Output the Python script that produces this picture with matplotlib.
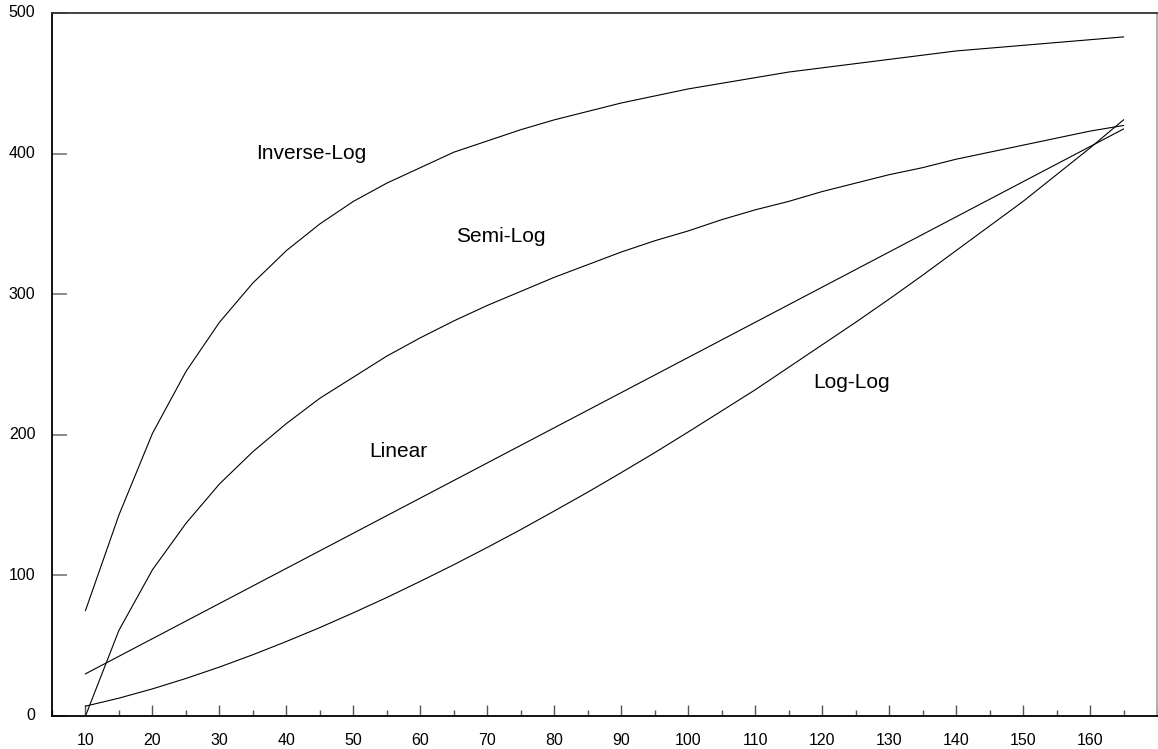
import matplotlib.pyplot as plt
from matplotlib.ticker import MultipleLocator

plt.rcParams['font.family'] = ['Liberation Sans', 'DejaVu Sans']

# x positions of the samples
x = [10, 15, 20, 25, 30, 35, 40, 45, 50, 55, 60, 65, 70, 75, 80, 85,
     90, 95, 100, 105, 110, 115, 120, 125, 130, 135, 140, 145, 150, 155, 160, 165]

inverse_log = [75, 143, 201, 245, 280, 308, 331, 350, 366, 379, 390, 401, 409, 417, 424, 430,
               436, 441, 446, 450, 454, 458, 461, 464, 467, 470, 473, 475, 477, 479, 481, 483]
semi_log = [0, 61, 104, 137, 165, 188, 208, 226, 241, 256, 269, 281, 292, 302, 312, 321,
            330, 338, 345, 353, 360, 366, 373, 379, 385, 390, 396, 401, 406, 411, 416, 420]
linear = [30, 42.5, 55, 67.5, 80, 92.5, 105, 117.5, 130, 142.5, 155, 167.5, 180, 192.5, 205, 217.5,
          230, 242.5, 255, 267.5, 280, 292.5, 305, 317.5, 330, 342.5, 355, 367.5, 380, 392.5, 405, 417.5]
log_log = [7, 12.7, 19.3, 26.7, 34.8, 43.6, 53, 62.9, 73.4, 84.3, 95.8, 107.6, 119.9, 132.6, 145.8, 159.2,
           173.1, 187.3, 202, 217, 232, 248, 264, 280, 296.5, 313.5, 331, 348.5, 366, 385, 404, 424]

labels = ['Inverse-Log', 'Semi-Log', 'Linear', 'Log-Log']
label_x = [35.5, 65.4, 52.4, 118.6]
label_y = [400, 341, 188, 237]

fig = plt.figure(figsize=(11.58, 7.49), dpi=100)
ax = fig.add_axes([52 / 1158, 33 / 749, 1105 / 1158, 703 / 749])

for ys in [inverse_log, semi_log, linear, log_log]:
    ax.plot(x, ys, color='black', lw=0.8)

for t, tx, ty in zip(labels, label_x, label_y):
    ax.text(tx, ty, t, fontsize=15, ha='left', va='center')

ax.set_xlim(5, 170)
ax.set_ylim(0, 500)
ax.xaxis.set_major_locator(MultipleLocator(10))
ax.xaxis.set_minor_locator(MultipleLocator(5))
ax.yaxis.set_major_locator(MultipleLocator(100))
ax.set_xticks(range(10, 161, 10))

ax.tick_params(axis='x', which='major', direction='in', length=8, width=1, color='#555555',
               labelsize=11.5, pad=12)
ax.tick_params(axis='x', which='minor', direction='in', length=4, width=1, color='#555555')
ax.tick_params(axis='y', direction='in', length=11, width=1.2, color='#777777',
               labelsize=11.5, pad=12)
for lbl in ax.get_yticklabels():
    lbl.set_y(lbl.get_position()[1])
    lbl.set_verticalalignment('center')

ax.spines['left'].set_linewidth(1.3)
ax.spines['bottom'].set_linewidth(1.3)
ax.spines['top'].set_color('#333333')
ax.spines['top'].set_linewidth(1.3)
ax.spines['right'].set_color('#aaaaaa')
ax.spines['right'].set_linewidth(1.3)

fig.savefig('out.png', dpi=100)
